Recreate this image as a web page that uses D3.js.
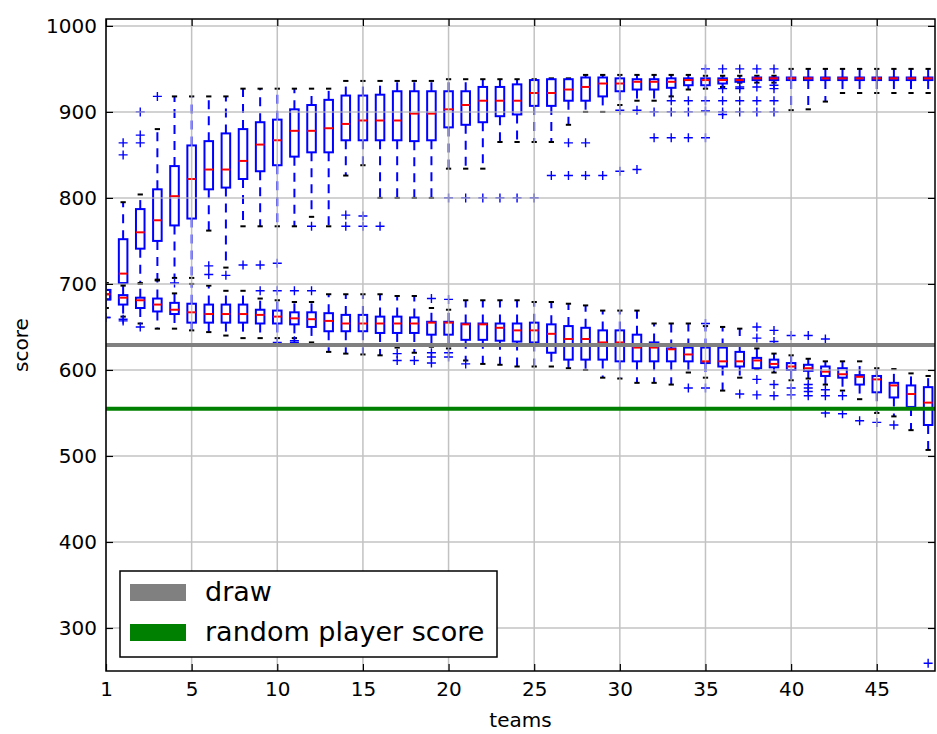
<!DOCTYPE html>
<html><head><meta charset="utf-8">
<script src="https://cdn.jsdelivr.net/npm/d3@7"></script>
<style>body{margin:0;background:#fff}svg{display:block}text{font-family:"DejaVu Sans",sans-serif}</style>
</head><body><svg id="c" width="937" height="734"></svg>
<script>
// ---- data ----
const positions = [0,1,2,3,4,5,6,7,8,9,10,11,12,13,14,15,16,17,18,19,20,21,22,23,24,25,26,27,28,29,30,31,32,33,34,35,36,37,38,39,40,41,42,43,44,45,46,47,48];
const xTickPositions = [0,5,10,15,20,25,30,35,40,45];
const xTickLabels = ["1","5","10","15","20","25","30","35","40","45"];
const yTicks = [300,400,500,600,700,800,900,1000];

// upper series (rising)
const upQ1  = [682,701,741,750,768,776,810,812,822,831,838,848,853,853,867,867,867,867,866,867,882,885,888,895,897,907,907,913,913,918,924,926,926,928,931,931,933,935,937,937,937,937,937,937,937,937,937,937,937];
const upMed = [688,712,760,774,802,822,833,833,843,862,867,878,878,881,886,890,890,890,898,898,903,908,913,913,913,922,922,926,929,933,933,935,935,935,937,937,937,937,939,939,939,939,939,939,939,939,939,939,939];
const upQ3  = [693,752,787,810,837,861,866,875,880,888,891,903,908,914,919,919,920,924,924,924,924,924,929,929,932,937,938,938,940,940,939,938,938,939,939,939,939,938,940,940,940,940,940,940,940,940,940,940,940];
const upLo  = [672,700,701,705,707,707,762,719,767,767,767,767,778,767,826,838,800,800,800,800,834,834,834,865,865,865,865,885,900,900,908,913,913,918,926,927,929,934,934,934,902,903,912,922,922,922,922,922,922];
const upHi  = [701,795,804,880,918,918,918,918,927,927,927,927,927,927,936,936,936,936,936,936,938,938,938,938,938,938,939,939,943,943,943,943,943,943,943,942,942,942,942,942,950,950,950,950,950,950,950,950,950];
const upFliers = [[661],[864,850],[900,873,864],[918],[701],[],[721,711],[710],[722],[722,692],[724,692],[692],[767,692],[],[780,767],[779,767],[767],[],[],[],[800],[800],[800],[800],[800],[800],[826],[864,826],[864,826],[826],[902,831],[902,833],[900,870],[913,900,870],[913,900,870],[950,913,901,870],[950,927,913,900,897],[950,929,927,913,900],[950,929,913,900],[950,931,927,913,900],[],[],[],[],[],[],[],[],[]];

// lower series (falling)
const loQ1  = [682,676,672,668,665,655,655,655,655,654,654,653,650,645,645,645,643,643,643,641,641,635,635,634,633,632,620,612,612,612,610,610,610,610,610,608,604,604,602,603,600,599,593,591,583,574,568,557,536];
const loMed = [688,684,681,676,670,667,665,665,665,664,662,660,659,657,654,654,654,654,654,655,655,653,653,649,646,646,642,636,636,632,632,626,626,624,618,610,610,610,611,607,604,602,598,595,592,589,582,572,562];
const loQ3  = [693,687,684,683,678,677,676,676,676,670,669,667,667,666,664,664,662,662,661,656,656,654,654,654,654,655,653,651,649,646,646,641,632,625,626,626,626,621,614,612,608,606,604,602,594,593,585,582,580];
const loLo  = [672,662,654,648,648,646,644,640,637,637,637,637,632,621,619,618,617,626,620,627,625,611,607,606,604,604,604,602,600,591,590,585,585,583,597,591,576,591,601,597,588,590,583,576,566,550,546,530,507];
const loHi  = [701,698,700,704,689,700,698,692,692,683,681,679,679,688,688,688,688,686,686,672,670,681,681,681,681,679,679,677,675,669,669,669,654,654,654,651,650,648,625,619,617,613,610,610,610,602,601,596,593];
const loFliers = [[661],[659,657],[650],[],[],[],[],[],[],[],[632],[634,632],[],[],[],[],[],[619,611],[611],[683,620,615,608],[682,620,615],[607],[],[],[],[],[],[],[],[],[],[],[],[],[579],[654,579],[],[572],[650,637,589,571],[646,633,583,570],[640,579,571],[640,583,579,575,570],[636,577,570,550],[570,549],[541],[539],[536],[],[259]];

const drawScore = 629;
const randomScore = 555;
const legendLabels = ["draw","random player score"];

// ---- chart ----
const svg = d3.select("#c");
const L=106, R=935, T=19, B=671;
const x = d3.scaleLinear().domain([0,48.4]).range([L,R]);
const y = d3.scaleLinear().domain([250,1008]).range([B,T]);
const bw = x(0.5)-x(0);

svg.append("defs").append("clipPath").attr("id","clip")
  .append("rect").attr("x",L).attr("y",T).attr("width",R-L).attr("height",B-T);
const plot = svg.append("g").attr("clip-path","url(#clip)");

function drawSeries(q1,med,q3,lo,hi,fl){
  const g = plot.append("g");
  positions.forEach((p,i)=>{
    const cx = x(p);
    g.append("line").attr("x1",cx).attr("x2",cx).attr("y1",y(q3[i])).attr("y2",y(hi[i]))
      .attr("stroke","#0000ff").attr("stroke-width",2).attr("stroke-dasharray","9,7");
    g.append("line").attr("x1",cx).attr("x2",cx).attr("y1",y(q1[i])).attr("y2",y(lo[i]))
      .attr("stroke","#0000ff").attr("stroke-width",2).attr("stroke-dasharray","9,7");
    [hi[i],lo[i]].forEach(v=>{
      g.append("line").attr("x1",cx-bw/4-0.5).attr("x2",cx+bw/4+0.5).attr("y1",y(v)).attr("y2",y(v))
        .attr("stroke","#000").attr("stroke-width",2);
    });
    g.append("rect").attr("x",cx-bw/2).attr("width",bw)
      .attr("y",y(q3[i])).attr("height",Math.max(0,y(q1[i])-y(q3[i])))
      .attr("fill","none").attr("stroke","#0000ff").attr("stroke-width",2);
    g.append("line").attr("x1",cx-bw/2).attr("x2",cx+bw/2).attr("y1",y(med[i])).attr("y2",y(med[i]))
      .attr("stroke","#ff0000").attr("stroke-width",2);
    fl[i].forEach(v=>{
      const yy=y(v), s=4.5;
      g.append("path").attr("d",`M${cx-s},${yy}H${cx+s}M${cx},${yy-s}V${yy+s}`)
        .attr("stroke","#0000ff").attr("stroke-width",1.4).attr("fill","none");
    });
  });
}
drawSeries(upQ1,upMed,upQ3,upLo,upHi,upFliers);
drawSeries(loQ1,loMed,loQ3,loLo,loHi,loFliers);

// grid on top (classic style)
const grid = svg.append("g").attr("stroke","#b4b4b4").attr("stroke-width",1.5).attr("opacity",0.8);
xTickPositions.forEach(v=>grid.append("line").attr("x1",x(v)).attr("x2",x(v)).attr("y1",T).attr("y2",B));
yTicks.forEach(v=>grid.append("line").attr("x1",L).attr("x2",R).attr("y1",y(v)).attr("y2",y(v)));

// horizontal reference lines
svg.append("line").attr("x1",L).attr("x2",R).attr("y1",y(drawScore)).attr("y2",y(drawScore))
  .attr("stroke","#808080").attr("stroke-width",4);
svg.append("line").attr("x1",L).attr("x2",R).attr("y1",y(randomScore)).attr("y2",y(randomScore))
  .attr("stroke","#008000").attr("stroke-width",4);

// axes
const fmt = d => xTickLabels[xTickPositions.indexOf(d)];
const ax = svg.append("g").attr("transform",`translate(0,${B})`)
  .call(d3.axisBottom(x).tickValues(xTickPositions).tickFormat(fmt).tickSize(-7).tickSizeOuter(0).tickPadding(11));
const axT = svg.append("g").attr("transform",`translate(0,${T})`)
  .call(d3.axisTop(x).tickValues(xTickPositions).tickFormat("").tickSize(-7).tickSizeOuter(0));
const ay = svg.append("g").attr("transform",`translate(${L},0)`)
  .call(d3.axisLeft(y).tickValues(yTicks).tickFormat(d3.format("d")).tickSize(-7).tickSizeOuter(0).tickPadding(9));
const ayR = svg.append("g").attr("transform",`translate(${R},0)`)
  .call(d3.axisRight(y).tickValues(yTicks).tickFormat("").tickSize(-7).tickSizeOuter(0));
[ax,axT,ay,ayR].forEach(a=>{
  a.select(".domain").remove();
  a.selectAll(".tick line").attr("stroke","#000").attr("stroke-width",1.2);
  a.selectAll("text").attr("font-size",20).attr("fill","#000").attr("font-family","DejaVu Sans");
});
svg.append("rect").attr("x",L).attr("y",T).attr("width",R-L).attr("height",B-T)
  .attr("fill","none").attr("stroke","#000").attr("stroke-width",1.5);

// axis labels
svg.append("text").attr("x",(L+R)/2).attr("y",727).attr("text-anchor","middle")
  .attr("font-size",20).text("teams");
svg.append("text").attr("transform",`translate(28,${(T+B)/2}) rotate(-90)`).attr("text-anchor","middle")
  .attr("font-size",20).text("score");

// legend
const lg = svg.append("g");
lg.append("rect").attr("x",120).attr("y",571).attr("width",377).attr("height",86)
  .attr("fill","#fff").attr("stroke","#000").attr("stroke-width",1.5);
const lcol = ["#808080","#008000"];
legendLabels.forEach((t,i)=>{
  const cy = 592 + i*40;
  lg.append("rect").attr("x",130).attr("y",cy-8).attr("width",56).attr("height",17).attr("fill",lcol[i]);
  lg.append("text").attr("x",205).attr("y",cy+9).attr("font-size",27).text(t);
});
</script></body></html>
